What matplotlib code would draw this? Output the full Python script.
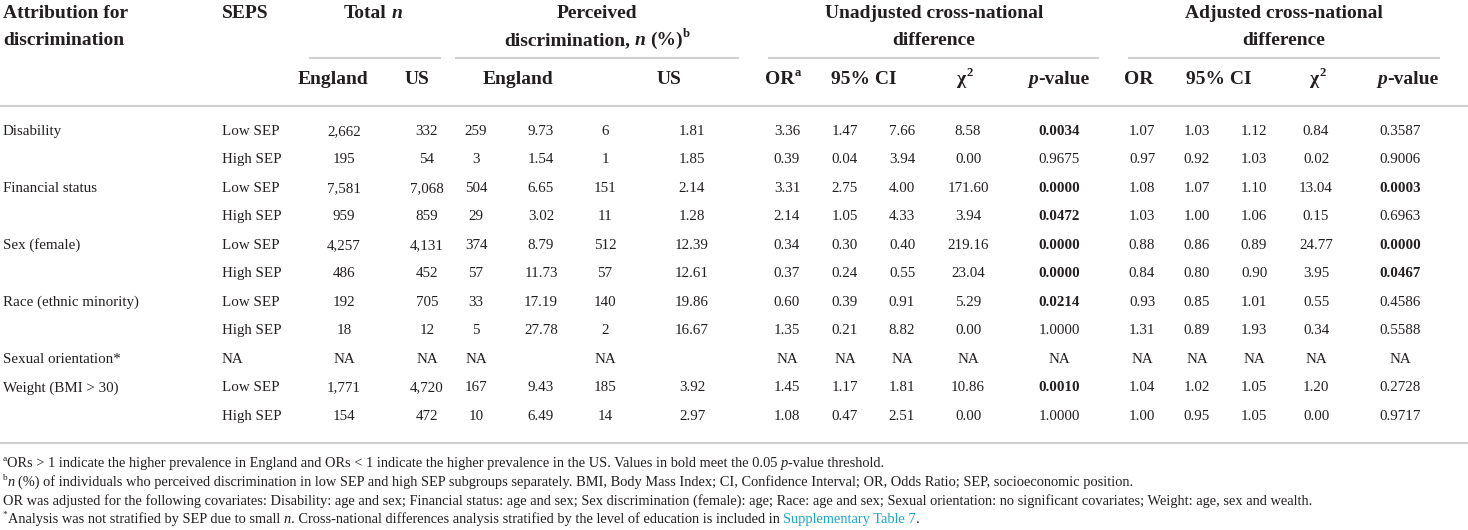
import matplotlib
matplotlib.use("Agg")
import matplotlib.pyplot as plt

plt.rcParams['font.family'] = ['Liberation Serif', 'DejaVu Serif']

# ---- table data ----
attribution = ["Disability", "", "Financial status", "", "Sex (female)", "",
               "Race (ethnic minority)", "", "Sexual orientation*", "Weight (BMI > 30)", ""]
seps = ["Low SEP", "High SEP", "Low SEP", "High SEP", "Low SEP", "High SEP",
        "Low SEP", "High SEP", "NA", "Low SEP", "High SEP"]
total_england = [2662, 195, 7581, 959, 4257, 486, 192, 18, None, 1771, 154]
total_us = [332, 54, 7068, 859, 4131, 452, 705, 12, None, 4720, 472]
perc_england_n = [259, 3, 504, 29, 374, 57, 33, 5, None, 167, 10]
perc_england_pct = [9.73, 1.54, 6.65, 3.02, 8.79, 11.73, 17.19, 27.78, "", 9.43, 6.49]
perc_us_n = [6, 1, 151, 11, 512, 57, 140, 2, None, 185, 14]
perc_us_pct = [1.81, 1.85, 2.14, 1.28, 12.39, 12.61, 19.86, 16.67, "", 3.92, 2.97]

unadj_or = [3.36, 0.39, 3.31, 2.14, 0.34, 0.37, 0.60, 1.35, None, 1.45, 1.08]
unadj_lo = [1.47, 0.04, 2.75, 1.05, 0.30, 0.24, 0.39, 0.21, None, 1.17, 0.47]
unadj_hi = [7.66, 3.94, 4.00, 4.33, 0.40, 0.55, 0.91, 8.82, None, 1.81, 2.51]
unadj_chi2 = [8.58, 0.00, 171.60, 3.94, 219.16, 23.04, 5.29, 0.00, None, 10.86, 0.00]
unadj_p = [0.0034, 0.9675, 0.0000, 0.0472, 0.0000, 0.0000, 0.0214, 1.0000, None, 0.0010, 1.0000]

adj_or = [1.07, 0.97, 1.08, 1.03, 0.88, 0.84, 0.93, 1.31, None, 1.04, 1.00]
adj_lo = [1.03, 0.92, 1.07, 1.00, 0.86, 0.80, 0.85, 0.89, None, 1.02, 0.95]
adj_hi = [1.12, 1.03, 1.10, 1.06, 0.89, 0.90, 1.01, 1.93, None, 1.05, 1.05]
adj_chi2 = [0.84, 0.02, 13.04, 0.15, 24.77, 3.95, 0.55, 0.34, None, 1.20, 0.00]
adj_p = [0.3587, 0.9006, 0.0003, 0.6963, 0.0000, 0.0467, 0.4586, 0.5588, None, 0.2728, 0.9717]

TXT = "#231f20"
RULE = "#cfcfcf"
LINK = "#1ba6c9"

W, H = 1468, 530
fig = plt.figure(figsize=(W / 100, H / 100), dpi=100)
ax = fig.add_axes([0, 0, 1, 1])
ax.set_xlim(0, W)
ax.set_ylim(H, 0)
ax.axis("off")
renderer = fig.canvas.get_renderer()


def px(size):
    return size * 100 / 72


def put(x, y, parts, size, ha="left", weight="normal"):
    # parts: list of (text, flags) ; flags is a tuple of "it", "sup", "link"
    arts = []
    for text, fl in parts:
        lead = len(text) - len(text.lstrip(" "))
        trail = len(text) - len(text.rstrip(" "))
        fs = size * 0.65 if "sup" in fl else size
        kw = dict(fontsize=fs, color=LINK if "link" in fl else TXT, va="baseline",
                  fontweight=weight,
                  fontstyle="italic" if "it" in fl else "normal")
        t = ax.text(0, 0, text.strip(" "), **kw)
        w = t.get_window_extent(renderer).width if text.strip(" ") else 0
        sp = 0.25 * px(size)
        arts.append((t, fl, lead * sp, w, trail * sp))
    total = sum(a[2] + a[3] + a[4] for a in arts)
    x0 = x - total / 2 if ha == "center" else x
    base = y + 0.33 * px(size)
    for t, fl, l, w, r in arts:
        dy = -0.42 * px(size) if "sup" in fl else 0
        x0 += l
        t.set_position((x0, base + dy))
        x0 += w + r


def fmt_int(v):
    return "NA" if v is None else f"{v:,}"


def fmt2(v):
    if v is None:
        return "NA"
    return v if isinstance(v, str) else f"{v:.2f}"


def fmtp(v):
    return "NA" if v is None else f"{v:.4f}"


# ---- header ----
HS = 14
put(3, 12, [("Attribution for", ())], HS, weight="bold")
put(3, 39, [("discrimination", ())], HS, weight="bold")
put(222, 12, [("SEPS", ())], HS, weight="bold")
put(373, 12, [("Total ", ()), ("n", ("it",))], HS, ha="center", weight="bold")
put(597, 12, [("Perceived", ())], HS, ha="center", weight="bold")
put(597, 39, [("discrimination, ", ()), ("n", ("it",)), (" (%)", ()), ("b", ("sup",))], HS,
    ha="center", weight="bold")
put(934, 12, [("Unadjusted cross-national", ())], HS, ha="center", weight="bold")
put(934, 39, [("difference", ())], HS, ha="center", weight="bold")
put(1284, 12, [("Adjusted cross-national", ())], HS, ha="center", weight="bold")
put(1284, 39, [("difference", ())], HS, ha="center", weight="bold")

for x0, x1 in [(309, 441), (455, 739), (768, 1099), (1128, 1440)]:
    ax.plot([x0, x1], [58, 58], color=RULE, lw=1.5, solid_capstyle="butt")

sub = [(333, [("England", ())]), (417, [("US", ())]), (518, [("England", ())]),
       (669, [("US", ())]), (783, [("OR", ()), ("a", ("sup",))]), (864, [("95% CI", ())]),
       (965, [("χ", ()), ("2", ("sup",))]), (1059, [("p", ("it",)), ("-value", ())]),
       (1139, [("OR", ())]), (1219, [("95% CI", ())]), (1318, [("χ", ()), ("2", ("sup",))]),
       (1408, [("p", ("it",)), ("-value", ())])]
for x, parts in sub:
    put(x, 78, parts, HS, ha="center", weight="bold")

ax.plot([0, W], [106, 106], color=RULE, lw=1.5, solid_capstyle="butt")

# ---- body ----
BS = 10.8
cols = [
    (344, total_england, fmt_int), (427, total_us, fmt_int),
    (476, perc_england_n, fmt_int), (541, perc_england_pct, fmt2),
    (605, perc_us_n, fmt_int), (692, perc_us_pct, fmt2),
    (787, unadj_or, fmt2), (845, unadj_lo, fmt2), (902, unadj_hi, fmt2),
    (968, unadj_chi2, fmt2),
    (1142, adj_or, fmt2), (1197, adj_lo, fmt2), (1254, adj_hi, fmt2),
    (1316, adj_chi2, fmt2),
]
for i in range(len(seps)):
    y = 130 + 28.5 * i
    if attribution[i]:
        put(3, y, [(attribution[i], ())], BS)
    put(222, y, [(seps[i], ())], BS)
    for x, vals, f in cols:
        s = f(vals[i])
        if s:
            put(x, y, [(s, ())], BS, ha="center")
    for x, vals in [(1059, unadj_p), (1400, adj_p)]:
        v = vals[i]
        bold = v is not None and v < 0.05
        put(x, y, [(fmtp(v), ())], BS, ha="center", weight="bold" if bold else "normal")

ax.plot([0, W], [443, 443], color=RULE, lw=1.5, solid_capstyle="butt")

# ---- footnotes ----
FS = 10.4
put(3, 462, [("a", ("sup",)),
             ("ORs > 1 indicate the higher prevalence in England and ORs < 1 indicate the "
              "higher prevalence in the US. Values in bold meet the 0.05 ", ()),
             ("p", ("it",)), ("-value threshold.", ())], FS)
put(3, 481, [("b", ("sup",)), ("n", ("it",)),
             (" (%) of individuals who perceived discrimination in low SEP and high SEP subgroups "
              "separately. BMI, Body Mass Index; CI, Confidence Interval; OR, Odds Ratio; SEP, "
              "socioeconomic position.", ())], FS)
put(3, 500, [("OR was adjusted for the following covariates: Disability: age and sex; Financial "
              "status: age and sex; Sex discrimination (female): age; Race: age and sex; Sexual "
              "orientation: no significant covariates; Weight: age, sex and wealth.", ())], FS)
put(3, 518, [("*", ("sup",)), ("Analysis was not stratified by SEP due to small ", ()),
             ("n", ("it",)),
             (". Cross-national differences analysis stratified by the level of education is "
              "included in ", ()), ("Supplementary Table 7", ("link",)), (".", ())], FS)

fig.savefig("out.png", dpi=100)
